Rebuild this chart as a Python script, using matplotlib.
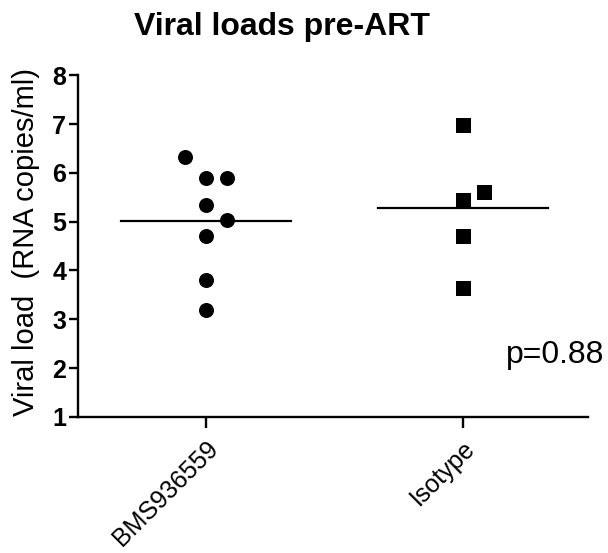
import matplotlib
matplotlib.use("Agg")
import matplotlib.pyplot as plt
import matplotlib.transforms as mtrans
import numpy as np

plt.rcParams['font.family'] = ['Liberation Sans', 'DejaVu Sans']

# data
groups = ['BMS936559', 'Isotype']
bms_vals = [6.33, 5.89, 5.89, 5.34, 5.03, 4.71, 3.81, 3.19]
bms_cols = [-1, 0, 1, 0, 1, 0, 0, 0]   # scatter column of each point
iso_vals = [6.98, 5.61, 5.44, 4.71, 3.64]
iso_cols = [0, 1, 0, 0, 0]
p_text = 'p=0.88'

col_step = 0.082
half_w = 0.33

fig = plt.figure(figsize=(6.08, 5.53), dpi=100)
ax = fig.add_axes([0.128, 0.246, 0.839, 0.618])

for i, (vals, cols, mk) in enumerate([(bms_vals, bms_cols, 'o'), (iso_vals, iso_cols, 's')]):
    xs = i + np.array(cols) * col_step
    ax.plot(xs, vals, linestyle='none', marker=mk, markersize=10.8,
            color='k', markeredgewidth=0, clip_on=False)
    m = np.mean(vals)
    ax.plot([i - half_w, i + half_w], [m, m], color='k', lw=1.6)

ax.set_xlim(-0.498, 1.486)
ax.set_ylim(1, 8)
ax.set_yticks(range(1, 9))
ax.set_xticks([0, 1])
ax.set_xticklabels(groups, rotation=45, ha='right', va='top',
                   rotation_mode='anchor', fontsize=18)
shift = mtrans.ScaledTranslation(3 / 100, 0, fig.dpi_scale_trans)
for lab in ax.get_xticklabels():
    lab.set_transform(lab.get_transform() + shift)
for lab in ax.get_yticklabels():
    lab.set_fontweight('bold')
    lab.set_fontsize(18)

for s in ['top', 'right']:
    ax.spines[s].set_visible(False)
for s in ['left', 'bottom']:
    ax.spines[s].set_linewidth(1.7)
ax.tick_params(axis='y', width=1.7, length=6.5, direction='out', pad=2)
ax.tick_params(axis='x', width=1.7, length=8, direction='out', pad=6)

ax.set_ylabel('Viral load  (RNA copies/ml)', fontsize=21)
ax.yaxis.set_label_coords(40 / 608, 1 - 242 / 553, transform=fig.transFigure)
fig.text(0.464, 1 - 35 / 553, 'Viral loads pre-ART', fontsize=23,
         fontweight='bold', ha='center', va='baseline')
ax.text(1.167, 2.11, p_text, fontsize=23, ha='left', va='baseline', clip_on=False)

fig.savefig('out.png', dpi=100)
